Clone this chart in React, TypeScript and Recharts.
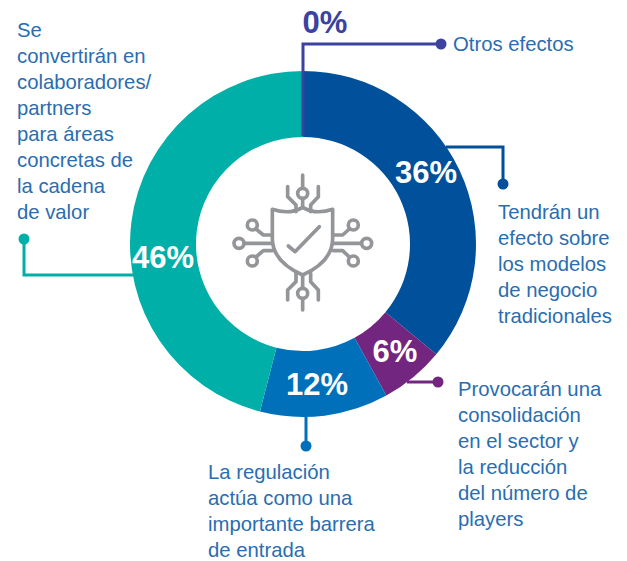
import { PieChart, Pie, Cell } from "recharts";

// ─── Data ────────────────────────────────────────────────────────────────────

const CATEGORIES = [
  "Otros efectos",
  "Tendrán un efecto sobre los modelos de negocio tradicionales",
  "Provocarán una consolidación en el sector y la reducción del número de players",
  "La regulación actúa como una importante barrera de entrada",
  "Se convertirán en colaboradores/partners para áreas concretas de la cadena de valor",
];
const VALUES = [0, 36, 6, 12, 46];
const COLORS = ["#3B429F", "#00509B", "#72267F", "#0070BA", "#00B0A8"];

const data = CATEGORIES.map((name, i) => ({ name, value: VALUES[i] }));

// ─── Layout ──────────────────────────────────────────────────────────────────

const FONT = '"Liberation Sans", Arial, sans-serif';
const TEXT_BLUE = "#2A6DB0";
const ICON_GRAY = "#939598";

// label centres, in the same order as VALUES
const PCT_POS = [
  { x: 325, y: 22 },
  { x: 426, y: 172 },
  { x: 395, y: 351 },
  { x: 317, y: 384 },
  { x: 163, y: 257 },
];

const NOTES = [
  { x: 453, y: 51, lines: ["Otros efectos"] },
  { x: 498, y: 219, lines: ["Tendrán un", "efecto sobre", "los modelos", "de negocio", "tradicionales"] },
  { x: 458, y: 396, lines: ["Provocarán una", "consolidación", "en el sector y", "la reducción", "del número de", "players"] },
  { x: 208, y: 479, lines: ["La regulación", "actúa como una", "importante barrera", "de entrada"] },
  { x: 17, y: 37, lines: ["Se", "convertirán en", "colaboradores/", "partners", "para áreas", "concretas de", "la cadena", "de valor"] },
];

const LEADERS = [
  { points: "303,136 303,44 441,44", dot: [441, 44] },
  { points: "446,147 503,147 503,184", dot: [503, 184] },
  { points: "407,382 438,382", dot: [438, 382] },
  { points: "306,416 306,446", dot: [306, 446] },
  { points: "135,275 24,275 24,239", dot: [24, 239] },
];

function ShieldIcon() {
  return (
    <g
      transform="translate(220 160) scale(0.3333)"
      fill="none"
      stroke={ICON_GRAY}
      strokeWidth={11}
      strokeLinecap="round"
      strokeLinejoin="round"
    >
      <path d="M157 148 Q210 165 248 142 Q286 165 338 148 L338 235 Q338 305 248 345 Q157 305 157 235 Z" />
      <path d="M205 258 L225 275 L298 200" />
      <path d="M248 45 V84 M248 116 V142 M203 80 V110 L228 135 V155 M295 80 V110 L272 135 V155" />
      <path d="M248 345 V384 M248 416 V450 M203 420 V390 L228 365 V340 M295 420 V390 L272 365 V340" />
      <path d="M73 250 H157 M108 207 L130 225 H157 M108 291 L130 272 H157" />
      <path d="M340 250 H424 M388 207 L368 225 H340 M388 291 L368 272 H340" />
      <circle cx={248} cy={100} r={15} />
      <circle cx={248} cy={400} r={15} />
      <circle cx={57} cy={250} r={15} />
      <circle cx={97} cy={195} r={15} />
      <circle cx={97} cy={303} r={15} />
      <circle cx={440} cy={250} r={15} />
      <circle cx={400} cy={195} r={15} />
      <circle cx={400} cy={303} r={15} />
    </g>
  );
}

export default function App() {
  return (
    <div style={{ position: "absolute", left: 0, top: 0, width: 627, height: 561, background: "#fff" }}>
      <PieChart width={627} height={561} margin={{ top: 0, right: 0, bottom: 0, left: 0 }}>
        <Pie
          data={data}
          dataKey="value"
          cx={303}
          cy={244}
          innerRadius={107}
          outerRadius={173}
          startAngle={90}
          endAngle={-270}
          stroke="none"
          isAnimationActive={false}
        >
          {data.map((d, i) => (
            <Cell key={d.name} fill={COLORS[i]} />
          ))}
        </Pie>
      </PieChart>

      {/* annotations sit above the pie layer */}
      <svg width={627} height={561} style={{ position: "absolute", left: 0, top: 0 }}>
        <ShieldIcon />

        {LEADERS.map((l, i) => (
          <g key={i}>
            <polyline points={l.points} fill="none" stroke={COLORS[i]} strokeWidth={3} />
            <circle cx={l.dot[0]} cy={l.dot[1]} r={5.5} fill={COLORS[i]} />
          </g>
        ))}

        {VALUES.map((v, i) => (
          <text
            key={i}
            x={PCT_POS[i].x}
            y={PCT_POS[i].y}
            textAnchor="middle"
            dominantBaseline="central"
            fontFamily={FONT}
            fontWeight={700}
            fontSize={31}
            fill={i === 0 ? COLORS[0] : "#fff"}
          >
            {v}%
          </text>
        ))}

        {NOTES.map((n, i) => (
          <text key={i} fontFamily={FONT} fontSize={20.3} fill={TEXT_BLUE}>
            {n.lines.map((line, j) => (
              <tspan key={j} x={n.x} y={n.y + j * 26}>
                {line}
              </tspan>
            ))}
          </text>
        ))}
      </svg>
    </div>
  );
}
